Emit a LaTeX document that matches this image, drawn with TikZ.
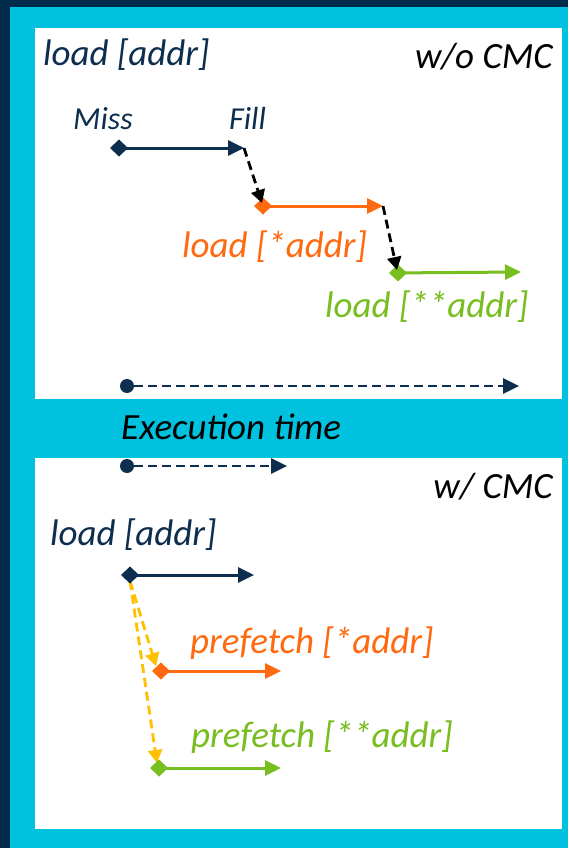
\documentclass[tikz,border=0pt]{standalone}
\usepackage{fontspec}
\setmainfont{Carlito}
\usetikzlibrary{arrows.meta}

\definecolor{navy}{HTML}{0D2E4E}
\definecolor{darkbg}{HTML}{012B4A}
\definecolor{band}{HTML}{00C1DE}
\definecolor{miss}{HTML}{FF6A10}
\definecolor{leaf}{HTML}{78BE20}
\definecolor{pf}{HTML}{FFC000}

\tikzset{
  lbl/.style={inner sep=0pt, font=\fontsize{37}{41}\selectfont\itshape},
  small/.style={inner sep=0pt, font=\fontsize{32}{36}\selectfont\itshape},
  span/.style={line width=3pt,
    {Diamond[length=18pt,width=17pt]}-{Triangle[length=16pt,width=15pt]}},
  hop/.style={line width=2.8pt, dash pattern=on 9pt off 5pt,
    -{Triangle[length=13pt,width=14pt]}},
  clock/.style={line width=2.8pt, navy, dash pattern=on 9pt off 5pt,
    -{Triangle[length=16pt,width=15pt]}},
  dotn/.style={circle, fill=navy, inner sep=0pt, minimum size=14pt},
}

\begin{document}
\begin{tikzpicture}[x=1pt,y=-1pt]
  \useasboundingbox (0,0) rectangle (568,848);
  % frame and panels
  \fill[darkbg] (0,0) rectangle (568,848);
  \fill[band] (10,7) rectangle (568,848);
  \fill[white] (35,28) rectangle (562,399);
  \fill[white] (35,458) rectangle (562,829);

  % ---------- without CMC ----------
  \node[lbl, navy, anchor=base west] (ttl1) at (43,66) {load [addr]};
  \node[lbl, anchor=base east] (hdr1) at (553,69) {w/o CMC};
  \node[small, navy, anchor=base west] (missl) at (73,130) {Miss};
  \node[small, navy, anchor=base west] (filll) at (229,130) {Fill};

  \coordinate (a0) at (110,148);
  \coordinate (a1) at (244,148);
  \coordinate (b0) at (254,206);
  \coordinate (b1) at (383,206);
  \coordinate (bt) at (262,203);
  \coordinate (c0) at (389,273);
  \coordinate (c1) at (521,272);
  \coordinate (ct) at (397,270);

  \draw[span, navy] (a0) -- (a1);
  \draw[span, miss] (b0) -- (b1);
  \draw[span, leaf] (c0) -- (c1);
  \draw[hop, black] (a1) -- (bt);
  \draw[hop, black] (b1) -- (ct);

  \node[lbl, miss, anchor=base west] (l2) at (182,257) {load [*addr]};
  \node[lbl, leaf, anchor=base west] (l3) at (325,317) {load [**addr]};

  \node[dotn] (t0) at (127,386) {};
  \coordinate (t1) at (519,386);
  \draw[clock] (t0) -- (t1);

  % ---------- band label ----------
  \node[lbl, anchor=base west] (xt) at (121,439) {Execution time};

  % ---------- with CMC ----------
  \node[dotn] (u0) at (127,466) {};
  \coordinate (u1) at (287,466);
  \draw[clock] (u0) -- (u1);

  \node[lbl, anchor=base east] (hdr2) at (553,498) {w/ CMC};
  \node[lbl, navy, anchor=base west] (ttl2) at (50,545) {load [addr]};

  \coordinate (d0) at (121,575);
  \coordinate (d1) at (254,575);
  \coordinate (ds) at (130,581);
  \coordinate (e0) at (152,671);
  \coordinate (e1) at (281,671);
  \coordinate (et) at (156,666);
  \coordinate (f0) at (150,768);
  \coordinate (f1) at (281,768);
  \coordinate (ft) at (157,763);

  \draw[hop, pf] (ds) -- (et);
  \draw[hop, pf] (ds) -- (ft);
  \draw[span, navy] (d0) -- (d1);
  \draw[span, miss] (e0) -- (e1);
  \draw[span, leaf] (f0) -- (f1);

  \node[lbl, miss, anchor=base west] (p1) at (190,653) {prefetch [*addr]};
  \node[lbl, leaf, anchor=base west] (p2) at (191,747) {prefetch [**addr]};
\end{tikzpicture}
\end{document}
